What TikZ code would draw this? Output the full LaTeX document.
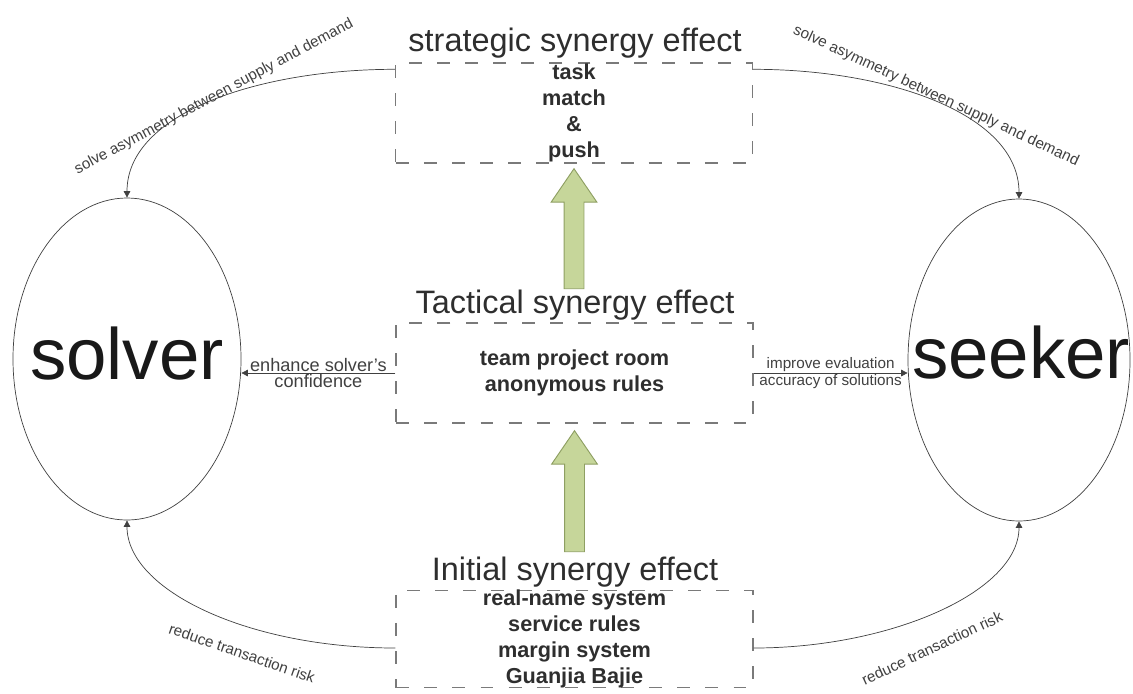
\documentclass[tikz,border=0pt]{standalone}
\usepackage{fontspec}
\setmainfont{Liberation Sans}
\usetikzlibrary{shapes.geometric,arrows.meta,calc}
\definecolor{ink}{HTML}{2E2E2E}
\definecolor{labelgray}{HTML}{404040}
\definecolor{dashgray}{HTML}{7A7A7A}
\definecolor{leaf}{HTML}{C6D69A}
\definecolor{leafedge}{HTML}{8E9F62}

% vertical block arrow from tail point #1 up to tip #2
\newcommand\blockarrow[2]{%
  \draw[greenarrow] let \p1=(#1), \p2=(#2) in
    (\x2-8.5pt,\y1) -- (\x2-8.5pt,\y2-28.5pt) -- (\x2-19.5pt,\y2-28.5pt) -- (\x2,\y2)
    -- (\x2+19.5pt,\y2-28.5pt) -- (\x2+8.5pt,\y2-28.5pt) -- (\x2+8.5pt,\y1) -- cycle;}

\begin{document}
\begin{tikzpicture}[x=0.03cm,y=-0.03cm,
  party/.style={draw=black!75,line width=0.6pt,ellipse,inner sep=0pt},
  partyname/.style={font=\fontsize{62}{70}\selectfont,text=black!90,inner sep=0pt},
  effectbox/.style={draw=dashgray,line width=1.2pt,dash pattern=on 11pt off 13pt,
    minimum width=10.7cm,minimum height=3cm,inner sep=0pt,align=center,
    font=\bfseries\fontsize{18.5}{22}\selectfont,text=ink},
  efftitle/.style={font=\fontsize{27.7}{32}\selectfont,text=ink},
  link/.style={draw=black!75,line width=0.6pt,-{Triangle[length=5.5pt,width=5.5pt]}},
  tag/.style={font=\fontsize{13}{15}\selectfont,text=labelgray,inner sep=1pt},
  greenarrow/.style={fill=leaf,draw=leafedge,line width=0.8pt,line join=miter}
]
\useasboundingbox (0,0) rectangle (1133,693);

% the two parties
\node[party,minimum width=6.84cm,minimum height=9.66cm] (solver) at (127,359) {};
\node[party,minimum width=6.66cm,minimum height=9.66cm] (seeker) at (1019,360) {};
\node[partyname] (solvername) at (127,354) {solver};
\node[partyname] (seekername) at (1021,353) {seeker};

% the three levels of synergy
\node[effectbox] (strat) at (574,113) {task\\match\\\&\\push};
\node[effectbox] (tact) at (574.5,373) {team project room\\anonymous rules};
\node[effectbox,minimum height=2.88cm] (init) at (574.5,639)
  {real-name system\\service rules\\margin system\\Guanjia Bajie};

\node[efftitle] (strattitle) at (575,43) {strategic synergy effect};
\node[efftitle] (tacttitle) at (575,305) {Tactical synergy effect};
\node[efftitle] (inittitle) at (575,572) {Initial synergy effect};

% upward block arrows between the levels
\blockarrow{$(tacttitle.north)+(0,3)$}{$(strat.south)+(0,5)$}
\blockarrow{$(inittitle.north)+(0,-1)$}{$(tact.south)+(0,7)$}

% tactical level links
\draw[link] (tact.west) -- (solver.east |- tact.west)
  node[tag,midway,above,font=\fontsize{15.5}{17}\selectfont] (enh) {enhance solver’s}
  node[tag,midway,below,font=\fontsize{15.5}{17}\selectfont] (conf) {confidence};
\draw[link] (tact.east) -- (seeker.west |- tact.east)
  node[tag,midway,above] (impr) {improve evaluation}
  node[tag,midway,below] (acc) {accuracy of solutions};

% strategic level links
\draw[link] ($(strat.north west)+(0,7)$) .. controls +(-135,0) and +(0,-85) .. (solver.north);
\draw[link] ($(strat.north east)+(0,7)$) .. controls +(135,0) and +(0,-85) .. (seeker.north);
\node[tag,rotate=28] (lsd) at (214,97) {solve asymmetry between supply and demand};
\node[tag,rotate=-25] (rsd) at (936,96) {solve asymmetry between supply and demand};

% initial level links
\draw[link] ($(init.west)+(0,9)$) .. controls +(-147,0) and +(0,70) .. (solver.south);
\draw[link] ($(init.east)+(0,9)$) .. controls +(138,0) and +(0,70) .. (seeker.south);
\node[tag,rotate=-19] (lrisk) at (242,653) {reduce transaction risk};
\node[tag,rotate=25] (rrisk) at (932,648) {reduce transaction risk};
\end{tikzpicture}
\end{document}
